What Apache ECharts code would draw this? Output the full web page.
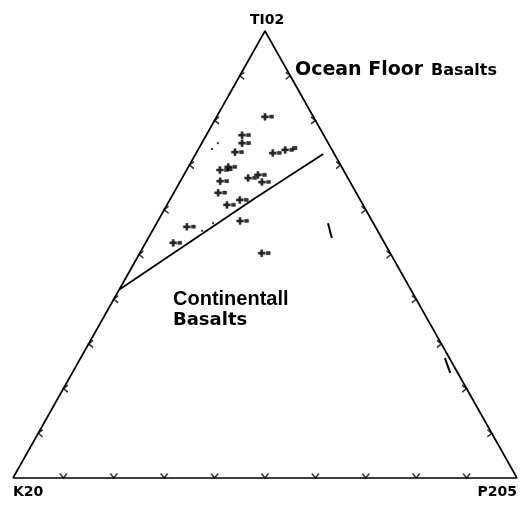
<!DOCTYPE html>
<html>
<head>
<meta charset="utf-8">
<script src="https://cdn.jsdelivr.net/npm/echarts@6/dist/echarts.min.js"></script>
<style>
  html, body { margin: 0; padding: 0; background: #fff; }
  #chart { width: 520px; height: 511px; }
</style>
</head>
<body>
<div id="chart"></div>
<script>
// Compositions are given in percent as [TiO2, K2O, P2O5]
const vertexNames = ['TI02', 'K20', 'P205'];

const triangle = [[0, 100, 0], [100, 0, 0], [0, 0, 100], [0, 100, 0]];

// Boundary between the ocean-floor and continental fields
const boundary = [[42.1, 57.9, 0], [62.6, 20.7, 16.7], [72.5, 2.2, 25.3]];

// Analysed basalt samples
const samples = [
  [80.8, 9.6, 9.6],
  [76.7, 16.2, 7.1],
  [74.9, 17.1, 8.0],
  [72.9, 19.5, 7.6],
  [72.7, 12.1, 15.2],
  [73.4, 9.3, 17.3],
  [68.9, 24.5, 6.6],
  [69.6, 22.5, 7.9],
  [66.4, 25.7, 7.9],
  [63.8, 27.4, 8.8],
  [67.1, 19.8, 13.1],
  [67.8, 17.5, 14.7],
  [66.2, 17.5, 16.3],
  [61.1, 27.0, 11.9],
  [62.2, 23.9, 13.9],
  [57.5, 26.2, 16.3],
  [56.2, 37.4, 6.4],
  [52.6, 41.9, 5.5],
  [50.3, 25.5, 24.2]
];

// Heavier sample tags
const blocks = [[73.8, 7.2, 19.0], [69.1, 22.4, 8.5]];

// Small isolated dots
const dots = [[74.9, 21.9, 3.2], [73.6, 23.7, 2.7], [57.0, 31.8, 11.2], [55.3, 34.8, 9.9]];

// Short pencil strokes inside the field
const strokeA = [[57.0, 9.0, 34.0], [53.7, 9.9, 36.4]];
const strokeB = [[26.8, 0.9, 72.3], [23.5, 1.5, 75.0]];

// Tick marks every 10 % along each side
const tickPercents = [10, 20, 30, 40, 50, 60, 70, 80, 90];

// Ternary -> cartesian (x along K2O-P2O5 base, y toward TiO2 apex)
function toXY(c) {
  const t = c[0] / 100, p = c[2] / 100;
  return [p + t / 2, t];
}

const leftTicks = tickPercents.map(v => toXY([v, 100 - v, 0]));
const rightTicks = tickPercents.map(v => toXY([v, 0, 100 - v]));
const baseTicks = tickPercents.map(v => toXY([0, 100 - v, v]));

const chevron = 'path://M0,0 L4,5 L8,0';
const plusTag = 'path://M0,2.4 H7 V4.6 H0 Z M2.4,0 H4.6 V7 H2.4 Z M8,1.8 H12 V5 H8 Z';

function lineSeries(data, width) {
  return {
    type: 'line', data: data.map(toXY), showSymbol: false, symbol: 'none',
    clip: false, silent: true,
    lineStyle: { color: '#000', width: width }
  };
}

function tickSeries(data, rot, offset) {
  return {
    type: 'scatter', data: data, symbol: chevron, symbolSize: [7, 4.5],
    symbolRotate: rot, symbolOffset: offset, clip: false, silent: true,
    itemStyle: { color: 'rgba(0,0,0,0)', borderColor: '#000', borderWidth: 1.4 }
  };
}

const chart = echarts.init(document.getElementById('chart'), null, { renderer: 'canvas' });

chart.setOption({
  animation: false,
  backgroundColor: '#fff',
  grid: { left: 13, right: 3, top: 31, bottom: 33 },
  xAxis: { type: 'value', min: 0, max: 1, show: false },
  yAxis: { type: 'value', min: 0, max: 1, show: false },
  series: [
    lineSeries(triangle, 1.7),
    lineSeries(boundary, 1.8),
    lineSeries(strokeA, 2),
    lineSeries(strokeB, 2),
    tickSeries(baseTicks, 0, [0, -2.2]),
    tickSeries(leftTicks, -90, [2.2, 0]),
    tickSeries(rightTicks, 90, [-2.2, 0]),
    {
      type: 'scatter', data: samples.map(toXY), symbol: plusTag,
      symbolSize: [12, 7], symbolOffset: [2.5, 0], clip: false, silent: true,
      itemStyle: { color: '#000', borderColor: '#000', borderWidth: 0.4 }
    },
    {
      type: 'scatter', data: blocks.map(toXY), symbol: 'rect',
      symbolSize: [5, 4], clip: false, silent: true,
      itemStyle: { color: '#000' }
    },
    {
      type: 'scatter', data: dots.map(toXY), symbol: 'rect',
      symbolSize: 2, clip: false, silent: true,
      itemStyle: { color: '#000' }
    }
  ],
  graphic: [
    { type: 'text', style: { text: vertexNames[0], x: 267, y: 20, align: 'center', verticalAlign: 'middle',
      font: 'bold 14px "DejaVu Sans"', fill: '#000' } },
    { type: 'text', style: { text: vertexNames[1], x: 13, y: 492, align: 'left', verticalAlign: 'middle',
      font: 'bold 14px "DejaVu Sans"', fill: '#000' } },
    { type: 'text', style: { text: vertexNames[2], x: 517, y: 492, align: 'right', verticalAlign: 'middle',
      font: 'bold 14px "DejaVu Sans"', fill: '#000' } },
    { type: 'text', style: { text: 'Ocean Floor', x: 295, y: 70, align: 'left', verticalAlign: 'middle',
      font: 'bold 19px "DejaVu Sans"', fill: '#000' } },
    { type: 'text', style: { text: 'Basalts', x: 431, y: 71, align: 'left', verticalAlign: 'middle',
      font: 'bold 16px "DejaVu Sans"', fill: '#000' } },
    { type: 'text', style: { text: 'Continentall', x: 173, y: 299, align: 'left', verticalAlign: 'middle',
      font: 'bold 20px "Liberation Sans"', fill: '#000' } },
    { type: 'text', style: { text: 'Basalts', x: 173, y: 320, align: 'left', verticalAlign: 'middle',
      font: 'bold 18px "DejaVu Sans"', fill: '#000' } }
  ]
});
</script>
</body>
</html>
